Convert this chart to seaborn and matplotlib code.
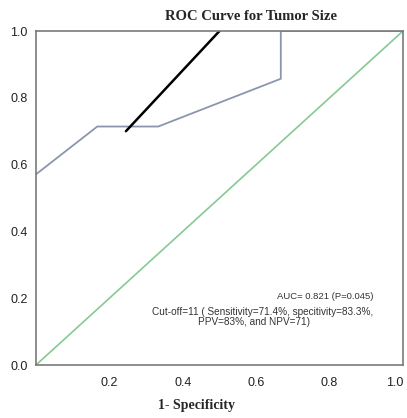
import matplotlib
matplotlib.use("Agg")
import matplotlib.pyplot as plt
import seaborn as sns
import pandas as pd

fpr = [0.0, 0.167, 0.333, 0.667, 0.667, 1.0]
tpr = [0.571, 0.714, 0.714, 0.857, 1.0, 1.0]
ref_x = [0.0, 1.0]
ref_y = [0.0, 1.0]
pointer_x = [0.245, 0.5]
pointer_y = [0.70, 1.0]
x_ticks = [0.2, 0.4, 0.6, 0.8, 1.0]
y_ticks = [0.0, 0.2, 0.4, 0.6, 0.8, 1.0]
title = "ROC Curve for Tumor Size"
xlabel = "1- Specificity"
auc_text = "AUC= 0.821 (P=0.045)"
cut_line1 = "Cut-off=11 ( Sensitivity=71.4%, specitivity=83.3%,"
cut_line2 = "PPV=83%, and NPV=71)"

sns.set_theme(style="white")
plt.rcParams['font.family'] = ['Liberation Sans', 'DejaVu Sans']

fig = plt.figure(figsize=(4.07, 4.18), dpi=100)
ax = fig.add_axes([36/407, 1-365/418, (403-36)/407, (365-31)/418])

roc = pd.DataFrame({"fpr": fpr, "tpr": tpr, "order": range(len(fpr))})
sns.lineplot(data=roc, x="fpr", y="tpr", sort=False, estimator=None, units=None,
             ax=ax, color="#8a96ad", linewidth=1.3)
sns.lineplot(x=ref_x, y=ref_y, ax=ax, color="#86c994", linewidth=1.2, estimator=None)
sns.lineplot(x=pointer_x, y=pointer_y, ax=ax, color="black", linewidth=1.8, estimator=None)

ax.set_xlim(0, 1)
ax.set_ylim(0, 1)
ax.set_xticks(x_ticks)
ax.set_yticks(y_ticks)
ax.set_xticklabels([f"{t:.1f}" for t in x_ticks], fontsize=9, color="#222222")
ax.set_yticklabels([f"{t:.1f}" for t in y_ticks], fontsize=9, color="#222222")
ax.tick_params(axis="both", which="both", length=3, width=1, color="#808080", direction="out")
ax.tick_params(axis="x", pad=6)
ax.tick_params(axis="y", pad=3)
ax.get_xticklabels()[-1].set_horizontalalignment("right")
ax.set_xlabel("")
ax.set_ylabel("")
for s in ax.spines.values():
    s.set_color("#7a7a7a")
    s.set_linewidth(1.2)

ax.text(0.92, 0.205, auc_text, transform=ax.transAxes, ha="right", va="center", fontsize=6.8, color="#333333")
ax.text(0.92, 0.16, cut_line1, transform=ax.transAxes, ha="right", va="center", fontsize=7.2, color="#333333")
ax.text(0.595, 0.13, cut_line2, transform=ax.transAxes, ha="center", va="center", fontsize=7.2, color="#333333")

fig.text(251/407, 1-17/418, title, ha="center", va="center", fontsize=10.5, fontweight="bold", family="Liberation Serif")
fig.text(197/407, 1-405/418, xlabel, ha="center", va="center", fontsize=10, fontweight="bold", family="Liberation Serif")

fig.savefig("out.png", dpi=100)
